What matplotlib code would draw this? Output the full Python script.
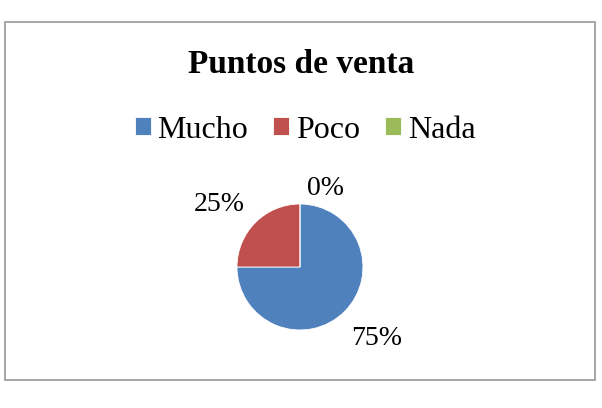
import numpy as np
import matplotlib.pyplot as plt
from matplotlib.patches import Rectangle

# data
categories = ["Mucho", "Poco", "Nada"]
values = [75, 25, 0]
colors = ["#4F81BD", "#C0504D", "#9BBB59"]
title = "Puntos de venta"

plt.rcParams['font.family'] = ['Liberation Serif', 'DejaVu Serif']

fig = plt.figure(figsize=(6.02, 4.08), dpi=100)

# outer frame of the chart area
fig.patches.append(Rectangle((0.0091, 0.0686), 0.979, 0.877, transform=fig.transFigure,
                             fill=False, edgecolor="#a6a6a6", linewidth=1.4))

fig.text(0.5, 0.842, title, ha="center", va="center", fontsize=24, fontweight="bold")

ax = fig.add_axes([0.289, 0.0368, 0.4186, 0.6176])
wedges, _ = ax.pie(values, colors=colors, startangle=90, counterclock=False,
                   radius=1.0, wedgeprops=dict(linewidth=0.6, edgecolor="white"))
ax.set_xlim(-2, 2)
ax.set_ylim(-2, 2)
ax.set_aspect("equal")
ax.axis("off")

# percentage labels outside the slices
dists = [1.655, 1.62, 1.31]
shifts = [2, 7, -18]
total = sum(values)
for w, v, d, s in zip(wedges, values, dists, shifts):
    ang = np.deg2rad((w.theta1 + w.theta2) / 2 + s)
    ax.text(d * np.cos(ang), d * np.sin(ang), "{:.0f}%".format(100 * v / total),
            ha="center", va="center", fontsize=20)

fig.legend(wedges, categories, loc="center", bbox_to_anchor=(0.507, 0.681), ncol=3,
           frameon=False, fontsize=23, handlelength=0.5, handleheight=0.5,
           handletextpad=0.22, columnspacing=0.78, borderpad=0, borderaxespad=0)

fig.savefig("out.png", dpi=100)
